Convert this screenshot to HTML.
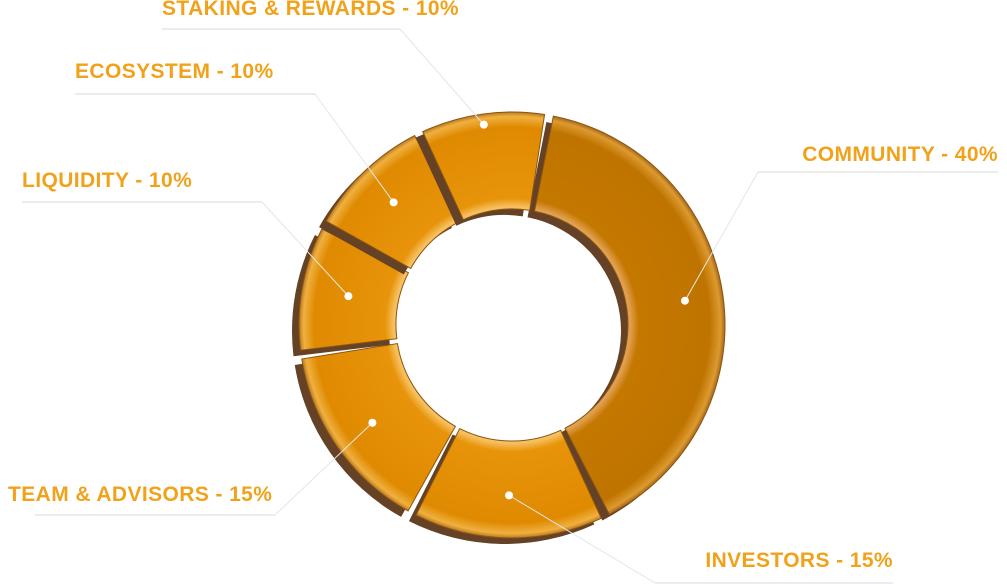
<!DOCTYPE html>
<html><head><meta charset="utf-8"><style>
html,body{margin:0;padding:0;background:#fff;}
svg{display:block;}
text{font-family:"Liberation Sans",sans-serif;font-weight:bold;font-size:21px;letter-spacing:0.4px;fill:#f0a21a;}
</style></head><body>
<svg id="chart" width="1007" height="588" viewBox="0 0 1007 588">
<defs>
<radialGradient id="gFace" cx="512" cy="325" r="215" gradientUnits="userSpaceOnUse">
<stop offset="0.55" stop-color="#f6c060"/><stop offset="0.59" stop-color="#e8940a"/><stop offset="0.92" stop-color="#df8a00"/><stop offset="0.97" stop-color="#f0b040"/><stop offset="1" stop-color="#a06010"/>
</radialGradient>
<radialGradient id="gFaceDark" cx="512" cy="325" r="215" gradientUnits="userSpaceOnUse">
<stop offset="0.55" stop-color="#e0a050"/><stop offset="0.59" stop-color="#c57800"/><stop offset="0.92" stop-color="#bf7400"/><stop offset="0.97" stop-color="#dc9a30"/><stop offset="1" stop-color="#8a5010"/>
</radialGradient>
</defs>
<g id="ring"></g>
<g id="labels"></g>
</svg>
<script>
const categories=["COMMUNITY","INVESTORS","TEAM & ADVISORS","LIQUIDITY","ECOSYSTEM","STAKING & REWARDS"];
const values=[40,15,15,10,10,10];
const cx=512,cy=325,R=213,r=116,start=10,gapDeg=1.2;
const ns="http://www.w3.org/2000/svg";
const ring=document.getElementById('ring');
function pt(a,rad,dx=0,dy=0){const t=(a-90)*Math.PI/180;return [cx+dx+rad*Math.cos(t),cy+dy+rad*Math.sin(t)];}
function arc(a0,a1,dx,dy){const p1=pt(a0,R,dx,dy),p2=pt(a1,R,dx,dy),p3=pt(a1,r,dx,dy),p4=pt(a0,r,dx,dy);const l=(a1-a0)>180?1:0;
return `M${p1} A${R},${R} 0 ${l} 1 ${p2} L${p3} A${r},${r} 0 ${l} 0 ${p4}Z`;}
const total=values.reduce((a,b)=>a+b,0);
let a=start;const mids=[];
values.forEach((v,i)=>{const a0=a+gapDeg,a1=a+v/total*360-gapDeg;
const b=document.createElementNS(ns,'path');b.setAttribute('d',arc(a0,a1,-7,6));b.setAttribute('fill','#654126');


ring.appendChild(b);
const s=document.createElementNS(ns,'path');s.setAttribute('d',arc(a0,a1,0,0));s.setAttribute('fill',i===0?'url(#gFaceDark)':'url(#gFace)');s.setAttribute('stroke','#8a5512');s.setAttribute('stroke-width','1');


ring.appendChild(s);
mids.push((a0+a1)/2);a+=v/total*360;});
const layout=[{tx:998,ty:161,anchor:'end',lx1:758,ly:172,lx2:998,dr:0.82},
{tx:893,ty:567,anchor:'end',lx1:655,ly:583,lx2:893,dr:0.8},
{tx:8,ty:501,anchor:'start',lx1:35,ly:515,lx2:275,dr:0.8},
{tx:22,ty:187,anchor:'start',lx1:22,ly:202,lx2:262,dr:0.78},
{tx:75,ty:78,anchor:'start',lx1:75,ly:94,lx2:315,dr:0.8},
{tx:162,ty:15,anchor:'start',lx1:162,ly:29,lx2:400,dr:0.95}];
const lg=document.getElementById('labels');
values.forEach((v,i)=>{const L=layout[i];const m=pt(mids[i],R*L.dr);
const near=(L.anchor==='end')?L.lx1:L.lx2;
const hl=document.createElementNS(ns,'line');hl.setAttribute('x1',L.lx1);hl.setAttribute('x2',L.lx2);hl.setAttribute('y1',L.ly);hl.setAttribute('y2',L.ly);hl.setAttribute('stroke','#d8d8d8');hl.setAttribute('stroke-width','1');


lg.appendChild(hl);
const dl=document.createElementNS(ns,'line');dl.setAttribute('x1',near);dl.setAttribute('y1',L.ly);dl.setAttribute('x2',m[0]);dl.setAttribute('y2',m[1]);dl.setAttribute('stroke','#e6e6e6');dl.setAttribute('stroke-width','1');


lg.appendChild(dl);
const c=document.createElementNS(ns,'circle');c.setAttribute('cx',m[0]);c.setAttribute('cy',m[1]);c.setAttribute('r','4');c.setAttribute('fill','#fff');


lg.appendChild(c);
const t=document.createElementNS(ns,'text');t.setAttribute('x',L.tx);t.setAttribute('y',L.ty);t.setAttribute('text-anchor',L.anchor);t.textContent=categories[i]+' - '+v+'%';


lg.appendChild(t);});
</script>
</body></html>
